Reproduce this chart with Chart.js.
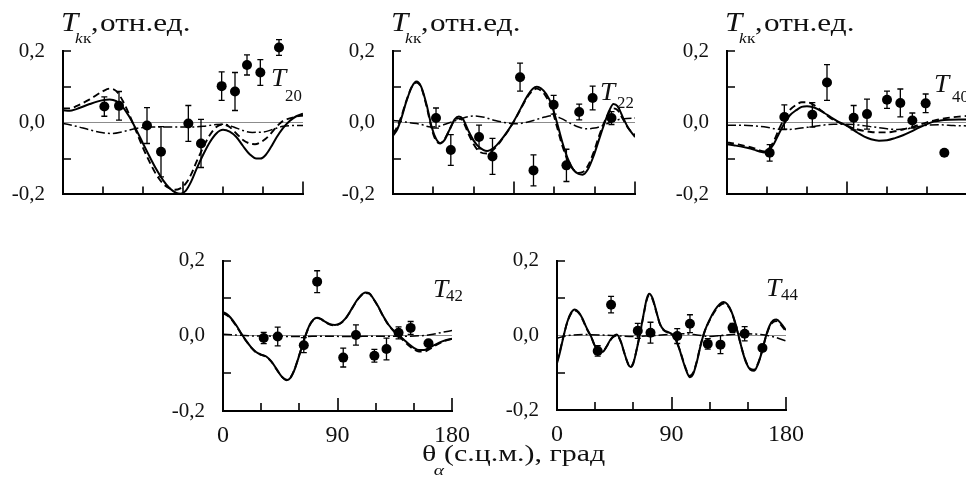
<!DOCTYPE html>
<html>
<head>
<meta charset="utf-8">
<title>T_kk</title>
<script src="https://cdn.jsdelivr.net/npm/chart.js@4.4.1/dist/chart.umd.min.js"></script>
<style>
  html, body { margin: 0; padding: 0; background: #fff; width: 966px; height: 479px; overflow: hidden; }
  canvas { position: absolute; }
  #xtitle {
    position: absolute; left: 422px; top: 442px;
    font: 23px "Liberation Serif", "Times New Roman", serif; color: #111;
    white-space: nowrap; line-height: 1;
    transform: scaleX(1.3); transform-origin: 0 0;
  }
  #xtitle sub { font-size: 15px; vertical-align: -14px; line-height: 0; font-style: italic; margin-left: -2px; }
</style>
</head>
<body>
<canvas id="c20" width="320" height="225" style="left:0px;top:0px"></canvas>
<canvas id="c22" width="320" height="225" style="left:330px;top:0px"></canvas>
<canvas id="c40" width="320" height="225" style="left:664px;top:0px"></canvas>
<canvas id="c42" width="320" height="225" style="left:160px;top:230px"></canvas>
<canvas id="c44" width="320" height="225" style="left:494px;top:230px"></canvas>
<div id="xtitle">θ<sub>α</sub>(с.ц.м.), град</div>

<script>
// ---- T20 ----
const angles20 = [31, 42, 63, 73.5, 94, 103.5, 119, 129, 138, 148, 162];
const values20 = [0.045, 0.047, -0.008, -0.081, -0.002, -0.058, 0.102, 0.087, 0.161, 0.140, 0.210];
const errors20 = [0.027, 0.040, 0.050, 0.070, 0.050, 0.067, 0.040, 0.053, 0.028, 0.036, 0.022];
const solid20 = [[0,0.035],[5,0.033],[10,0.038],[20,0.052],[30,0.063],[35,0.065],[40,0.060],[45,0.043],[50,0.015],[55,-0.02],[60,-0.058],[65,-0.095],[70,-0.13],[75,-0.16],[80,-0.183],[85,-0.196],[88,-0.198],[92,-0.19],[96,-0.165],[100,-0.13],[105,-0.09],[110,-0.055],[115,-0.03],[120,-0.02],[125,-0.025],[130,-0.04],[135,-0.065],[140,-0.088],[145,-0.1],[148,-0.1],[152,-0.09],[156,-0.068],[160,-0.042],[165,-0.015],[170,0.005],[175,0.018],[180,0.025]];
const dashed20 = [[0,0.04],[5,0.04],[10,0.046],[20,0.065],[30,0.088],[35,0.095],[40,0.088],[45,0.06],[50,0.02],[55,-0.025],[60,-0.07],[65,-0.11],[70,-0.145],[75,-0.17],[80,-0.183],[84,-0.187],[88,-0.183],[92,-0.17],[96,-0.145],[100,-0.11],[105,-0.07],[110,-0.035],[115,-0.012],[120,-0.005],[125,-0.012],[130,-0.03],[135,-0.048],[140,-0.058],[144,-0.06],[148,-0.055],[152,-0.045],[156,-0.03],[160,-0.012],[165,0.005],[170,0.012],[175,0.017],[180,0.02]];
const dashDot20 = [[0,-0.002],[10,-0.01],[20,-0.02],[30,-0.028],[37,-0.03],[45,-0.025],[55,-0.016],[65,-0.012],[80,-0.012],[95,-0.012],[105,-0.01],[115,-0.005],[120,-0.004],[128,-0.012],[135,-0.022],[142,-0.027],[150,-0.026],[158,-0.018],[165,-0.01],[172,-0.008],[180,-0.008]];

// ---- T22 ----
const angles22 = [32, 43, 64, 74, 94.5, 104.5, 119.5, 129, 138.5, 148.5, 162.5];
const values22 = [0.013, -0.076, -0.040, -0.094, 0.127, -0.133, 0.050, -0.119, 0.030, 0.069, 0.013];
const errors22 = [0.028, 0.043, 0.033, 0.050, 0.039, 0.043, 0.026, 0.045, 0.022, 0.033, 0.018];
const solid22 = [[0,-0.036],[3,-0.02],[6,0.01],[10,0.06],[14,0.1],[17.5,0.115],[21,0.1],[25,0.05],[29,-0.015],[32,-0.045],[35,-0.057],[38,-0.05],[42,-0.02],[46,0.01],[49,0.017],[52,0.01],[56,-0.022],[60,-0.05],[64,-0.068],[70,-0.079],[75,-0.07],[80,-0.05],[85,-0.025],[90,0.005],[95,0.04],[100,0.075],[104,0.095],[107,0.1],[110,0.096],[114,0.08],[118,0.05],[122,0.0],[126,-0.055],[130,-0.1],[134,-0.13],[138,-0.143],[141,-0.145],[145,-0.13],[149,-0.095],[153,-0.05],[157,-0.005],[161,0.035],[164,0.052],[167,0.046],[171,0.015],[175,-0.015],[180,-0.04]];
const dashed22 = [[0,-0.03],[3,-0.012],[6,0.015],[10,0.062],[14,0.1],[17.5,0.112],[21,0.098],[25,0.045],[29,-0.02],[32,-0.05],[35,-0.058],[38,-0.048],[42,-0.02],[46,0.008],[49,0.012],[52,0.004],[56,-0.03],[60,-0.06],[64,-0.08],[70,-0.086],[75,-0.074],[80,-0.052],[85,-0.026],[90,0.004],[95,0.038],[100,0.072],[104,0.09],[107,0.095],[110,0.09],[114,0.072],[118,0.04],[122,-0.012],[126,-0.065],[130,-0.105],[134,-0.13],[138,-0.14],[141,-0.138],[145,-0.12],[149,-0.085],[153,-0.04],[157,0.0],[161,0.03],[164,0.04],[167,0.035],[171,0.01],[175,-0.015],[180,-0.035]];
const dashDot22 = [[0,0.006],[6,0.004],[12,0.0],[20,-0.004],[28,-0.012],[34,-0.01],[42,0.0],[50,0.01],[56,0.017],[61,0.019],[68,0.015],[76,0.006],[84,0.0],[92,-0.003],[98,0.0],[106,0.008],[113,0.016],[119,0.02],[125,0.012],[132,-0.002],[138,-0.012],[144,-0.017],[150,-0.015],[156,-0.008],[162,0.002],[168,0.009],[174,0.012],[180,0.013]];

// ---- T40 ----
const angles40 = [32, 43, 64, 75, 95, 105, 120, 130, 139, 149, 163];
const values40 = [-0.084, 0.016, 0.022, 0.112, 0.014, 0.024, 0.064, 0.055, 0.006, 0.054, -0.084];
const errors40 = [0.023, 0.034, 0.034, 0.050, 0.034, 0.042, 0.024, 0.039, 0.021, 0.026, 0];
const solid40 = [[0,-0.06],[5,-0.063],[10,-0.066],[15,-0.07],[20,-0.075],[25,-0.081],[28,-0.083],[31,-0.078],[35,-0.06],[39,-0.03],[43,-0.002],[47,0.02],[52,0.035],[56,0.044],[60,0.046],[64,0.044],[68,0.038],[73,0.027],[78,0.015],[83,0.004],[88,-0.005],[93,-0.016],[98,-0.028],[103,-0.039],[108,-0.046],[114,-0.05],[120,-0.049],[126,-0.043],[132,-0.035],[138,-0.025],[144,-0.014],[150,-0.004],[155,0.003],[160,0.006],[167,0.008],[174,0.009],[180,0.009]];
const dashed40 = [[0,-0.055],[5,-0.058],[10,-0.062],[15,-0.066],[20,-0.071],[25,-0.078],[28,-0.08],[31,-0.074],[35,-0.052],[39,-0.018],[43,0.012],[47,0.035],[52,0.05],[56,0.057],[60,0.057],[64,0.052],[68,0.042],[73,0.027],[78,0.012],[83,0.002],[88,-0.006],[93,-0.013],[98,-0.019],[103,-0.023],[108,-0.026],[114,-0.027],[120,-0.027],[126,-0.024],[132,-0.019],[138,-0.013],[144,-0.006],[150,0.001],[155,0.006],[160,0.01],[167,0.014],[174,0.017],[180,0.019]];
const dashDot40 = [[0,-0.007],[10,-0.007],[20,-0.009],[30,-0.013],[38,-0.018],[45,-0.019],[52,-0.017],[60,-0.013],[70,-0.008],[80,-0.004],[90,-0.004],[100,-0.007],[110,-0.012],[120,-0.017],[128,-0.019],[135,-0.017],[142,-0.012],[150,-0.007],[160,-0.006],[170,-0.008],[180,-0.009]];

// ---- T42 ----
const angles42 = [32, 43, 63.5, 74, 94.5, 104.5, 119, 128.5, 138, 147.5, 161.5];
const values42 = [-0.006, -0.002, -0.025, 0.144, -0.058, 0.002, -0.053, -0.035, 0.008, 0.021, -0.020];
const errors42 = [0.015, 0.025, 0.020, 0.029, 0.025, 0.027, 0.017, 0.029, 0.016, 0.017, 0];
const solid42 = [[0,0.063],[3,0.058],[6,0.048],[10,0.03],[14,0.008],[18,-0.012],[22,-0.03],[26,-0.043],[30,-0.05],[34,-0.055],[38,-0.068],[42,-0.088],[46,-0.108],[50,-0.118],[53,-0.112],[56,-0.092],[59,-0.062],[62,-0.03],[65,0.002],[68,0.028],[71,0.043],[74,0.048],[77,0.045],[80,0.038],[84,0.031],[88,0.029],[92,0.033],[96,0.045],[100,0.065],[104,0.088],[108,0.106],[112,0.115],[115,0.113],[118,0.1],[122,0.078],[126,0.052],[130,0.03],[134,0.014],[138,0.002],[142,-0.01],[146,-0.022],[150,-0.032],[154,-0.038],[158,-0.038],[162,-0.032],[166,-0.025],[170,-0.018],[175,-0.012],[180,-0.008]];
const dashed42 = [[0,0.06],[3,0.055],[6,0.046],[10,0.028],[14,0.007],[18,-0.013],[22,-0.031],[26,-0.044],[30,-0.051],[34,-0.056],[38,-0.069],[42,-0.089],[46,-0.108],[50,-0.117],[53,-0.111],[56,-0.091],[59,-0.061],[62,-0.029],[65,0.002],[68,0.027],[71,0.042],[74,0.047],[77,0.044],[80,0.037],[84,0.03],[88,0.028],[92,0.032],[96,0.044],[100,0.064],[104,0.087],[108,0.105],[112,0.114],[115,0.112],[118,0.099],[122,0.077],[126,0.051],[130,0.029],[134,0.013],[138,0.0],[142,-0.013],[146,-0.026],[150,-0.036],[154,-0.042],[158,-0.042],[162,-0.036],[166,-0.028],[170,-0.02],[175,-0.013],[180,-0.008]];
const dashDot42 = [[0,0.004],[10,0.002],[20,0.0],[40,-0.001],[60,-0.002],[80,-0.001],[100,-0.002],[120,-0.001],[140,-0.001],[155,0.0],[165,0.004],[172,0.009],[180,0.014]];

// ---- T44 ----
const angles44 = [32, 42.5, 63.5, 73.5, 94.5, 104.5, 118.5, 128.5, 138, 147.5, 161.5];
const values44 = [-0.042, 0.082, 0.012, 0.007, -0.002, 0.031, -0.023, -0.025, 0.020, 0.004, -0.034];
const errors44 = [0.014, 0.022, 0.020, 0.028, 0.020, 0.024, 0.014, 0.024, 0.012, 0.019, 0];
const solid44 = [[0,-0.075],[2,-0.05],[5,-0.005],[8,0.035],[11,0.06],[14,0.069],[17,0.062],[20,0.045],[23,0.022],[27,-0.005],[30,-0.03],[33,-0.045],[36,-0.044],[39,-0.03],[42,-0.012],[44.5,-0.002],[47,0.002],[50,-0.015],[53,-0.048],[56,-0.078],[58,-0.085],[60,-0.075],[62,-0.048],[65,0.0],[68,0.055],[70.5,0.097],[72.5,0.111],[75,0.1],[78,0.065],[81,0.03],[84,0.014],[87,0.009],[90,0.004],[93,-0.01],[96,-0.035],[99,-0.068],[102,-0.098],[104.5,-0.112],[107,-0.104],[110,-0.07],[113,-0.025],[116,0.01],[120,0.042],[124,0.067],[128,0.084],[131,0.089],[134,0.083],[137,0.065],[140,0.035],[143,-0.005],[146,-0.045],[149,-0.076],[152,-0.092],[155,-0.095],[158,-0.077],[161,-0.045],[164,-0.005],[167,0.025],[170,0.04],[172.5,0.042],[176,0.032],[180,0.014]];
const dashed44 = [[0,-0.07],[2,-0.046],[5,-0.004],[8,0.034],[11,0.058],[14,0.066],[17,0.06],[20,0.043],[23,0.02],[27,-0.006],[30,-0.03],[33,-0.044],[36,-0.043],[39,-0.03],[42,-0.013],[44.5,-0.004],[47,0.0],[50,-0.016],[53,-0.048],[56,-0.077],[58,-0.083],[60,-0.073],[62,-0.047],[65,0.0],[68,0.053],[70.5,0.094],[72.5,0.107],[75,0.097],[78,0.063],[81,0.029],[84,0.013],[87,0.008],[90,0.003],[93,-0.01],[96,-0.034],[99,-0.066],[102,-0.095],[104.5,-0.108],[107,-0.1],[110,-0.068],[113,-0.024],[116,0.01],[120,0.04],[124,0.064],[128,0.08],[131,0.085],[134,0.08],[137,0.063],[140,0.033],[143,-0.006],[146,-0.044],[149,-0.074],[152,-0.09],[155,-0.092],[158,-0.075],[161,-0.044],[164,-0.006],[167,0.022],[170,0.036],[172.5,0.038],[176,0.028],[180,0.01]];
const dashDot44 = [[0,-0.008],[5,-0.003],[10,0.0],[20,0.002],[40,0.0],[60,-0.003],[70,-0.002],[80,0.0],[90,0.003],[100,0.004],[110,0.001],[120,-0.003],[130,0.0],[140,0.003],[150,0.004],[160,0.002],[170,-0.004],[180,-0.015]];

const serif = '"Liberation Serif", "Times New Roman", serif';

// error bars drawn from each point's value ± error, through the chart's scales
const errorBars = {
  id: 'errorBars',
  afterDatasetsDraw(chart) {
    const { ctx, scales: { x, y } } = chart;
    chart.data.datasets.forEach(ds => {
      if (!ds.errorBars) return;
      ctx.save();
      ctx.strokeStyle = '#000';
      ctx.lineWidth = 1.3;
      ds.data.forEach((p, i) => {
        const e = ds.errorBars[i];
        if (!e) return;
        const px = x.getPixelForValue(p.x);
        const y1 = y.getPixelForValue(p.y + e);
        const y2 = y.getPixelForValue(p.y - e);
        ctx.beginPath();
        ctx.moveTo(px, y1); ctx.lineTo(px, y2);
        ctx.moveTo(px - 3, y1); ctx.lineTo(px + 3, y1);
        ctx.moveTo(px - 3, y2); ctx.lineTo(px + 3, y2);
        ctx.stroke();
      });
      ctx.restore();
    });
  }
};

// tick marks pointing into the plot
const inwardTicks = {
  id: 'inwardTicks',
  afterDraw(chart) {
    const { ctx, chartArea: a, scales: { x, y } } = chart;
    ctx.save();
    ctx.strokeStyle = '#000';
    ctx.lineWidth = 1.6;
    ctx.beginPath();
    x.ticks.forEach(t => {
      if (t.value <= 0) return;
      const px = Math.round(x.getPixelForValue(t.value));
      const len = t.value % 90 === 0 ? 13 : 8;
      ctx.moveTo(px, a.bottom); ctx.lineTo(px, a.bottom - len);
    });
    y.ticks.forEach(t => {
      if (t.value < -0.19 || Math.abs(t.value) < 1e-9) return;
      const py = Math.round(y.getPixelForValue(t.value));
      ctx.moveTo(a.left, py); ctx.lineTo(a.left + 8, py);
    });
    ctx.stroke();
    ctx.restore();
  }
};

function stretchText(ctx, text, x, y, font, sx) {
  ctx.save();
  ctx.font = font;
  ctx.translate(x, y);
  ctx.scale(sx, 1);
  ctx.fillText(text, 0, 0);
  ctx.restore();
}

// "T_kк, отн.ед." above the top row and the T_xx name inside each panel
const panelText = {
  id: 'panelText',
  afterDraw(chart, args, o) {
    const ctx = chart.ctx;
    ctx.save();
    ctx.fillStyle = '#111';
    ctx.textBaseline = 'alphabetic';
    ctx.textAlign = 'left';
    if (o.title) {
      const x = chart.chartArea.left - 2;
      stretchText(ctx, 'T', x, 31, 'italic 27px ' + serif, 1.15);
      stretchText(ctx, 'k', x + 14, 43, 'italic 15px ' + serif, 1.15);
      stretchText(ctx, 'к', x + 22, 43, '15px ' + serif, 1.15);
      stretchText(ctx, ',', x + 30, 31, '26px ' + serif, 1.15);
      stretchText(ctx, 'отн.ед.', x + 39, 31, '26px ' + serif, 1.2);
    }
    if (o.name) {
      const n = o.name;
      stretchText(ctx, 'T', n.x, n.y, 'italic 26px ' + serif, 1.05);
      stretchText(ctx, n.sub, n.x + n.dx, n.y + n.dy, '16px ' + serif, 1.05);
    }
    ctx.restore();
  }
};

const toXY = pts => pts.map(([x, y]) => ({ x, y }));

function curve(pts, dash, width) {
  return {
    data: toXY(pts),
    borderColor: '#000',
    borderWidth: width,
    borderDash: dash,
    pointRadius: 0,
    fill: false,
    cubicInterpolationMode: 'monotone'
  };
}

function yLabel(v) {
  if (Math.abs(Math.abs(v) - 0.1) < 1e-9) return '';
  return (v < -1e-9 ? '-' : '') + Math.abs(v).toFixed(1).replace('.', ',');
}

function makePanel(id, p) {
  new Chart(document.getElementById(id), {
    type: 'line',
    data: {
      datasets: [
        curve(p.dashDot, [9, 3, 2, 3], 1.5),
        curve(p.dashed, [7, 4], 1.9),
        curve(p.solid, [], 2),
        {
          data: p.angles.map((a, i) => ({ x: a, y: p.values[i] })),
          errorBars: p.errors,
          showLine: false,
          clip: false,
          pointRadius: 5,
          pointHoverRadius: 5,
          pointBackgroundColor: '#000',
          pointBorderWidth: 0
        }
      ]
    },
    options: {
      responsive: false,
      animation: false,
      events: [],
      layout: { padding: { left: 0, top: p.top, right: p.right, bottom: 0 } },
      plugins: {
        legend: { display: false },
        tooltip: { enabled: false },
        panelText: { title: p.title, name: p.name }
      },
      scales: {
        x: {
          type: 'linear', min: 0, max: 180,
          border: { color: '#000', width: 2 },
          grid: { display: false, drawTicks: false },
          ticks: {
            display: p.xLabels, stepSize: 30, padding: 10, autoSkip: false, maxRotation: 0,
            color: '#111', font: { family: serif, size: 24 },
            callback: v => (v % 90 === 0 ? String(v) : '')
          },
          afterFit: s => { s.height = p.xHeight; }
        },
        y: {
          type: 'linear', min: -0.2, max: 0.2,
          border: { color: '#000', width: 2 },
          grid: {
            drawTicks: false, lineWidth: 1,
            color: c => (Math.abs(c.tick.value) < 1e-9 ? '#8c8c8c' : 'rgba(0,0,0,0)')
          },
          ticks: {
            stepSize: 0.1, padding: 18, color: '#111',
            font: { family: serif, size: 21 },
            callback: yLabel
          },
          afterFit: s => { s.width = 63; }
        }
      }
    },
    plugins: [errorBars, inwardTicks, panelText]
  });
}

makePanel('c20', { angles: angles20, values: values20, errors: errors20, solid: solid20, dashed: dashed20, dashDot: dashDot20,
  top: 51, right: 17, xHeight: 13, xLabels: false, title: true, name: { x: 271, y: 86, sub: '20', dx: 14, dy: 15 } });
makePanel('c22', { angles: angles22, values: values22, errors: errors22, solid: solid22, dashed: dashed22, dashDot: dashDot22,
  top: 51, right: 15, xHeight: 13, xLabels: false, title: true, name: { x: 270, y: 100, sub: '22', dx: 17, dy: 8 } });
makePanel('c40', { angles: angles40, values: values40, errors: errors40, solid: solid40, dashed: dashed40, dashDot: dashDot40,
  top: 51, right: 17, xHeight: 13, xLabels: false, title: true, name: { x: 270, y: 92, sub: '40', dx: 18, dy: 10 } });
makePanel('c42', { angles: angles42, values: values42, errors: errors42, solid: solid42, dashed: dashed42, dashDot: dashDot42,
  top: 18, right: 14, xHeight: 44, xLabels: true, title: false, name: { x: 273, y: 67, sub: '42', dx: 13, dy: 4 } });
makePanel('c44', { angles: angles44, values: values44, errors: errors44, solid: solid44, dashed: dashed44, dashDot: dashDot44,
  top: 19, right: 15, xHeight: 45, xLabels: true, title: false, name: { x: 272, y: 66, sub: '44', dx: 15, dy: 4 } });
</script>
</body>
</html>
